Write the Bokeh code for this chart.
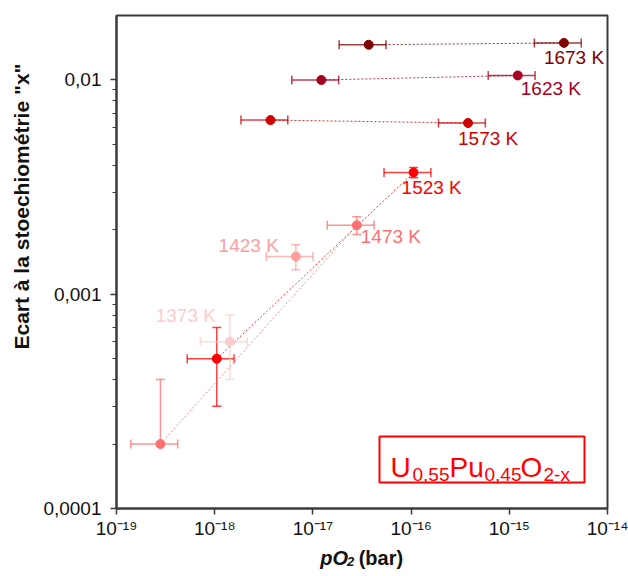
import math
from bokeh.plotting import figure
from bokeh.layouts import column, row
from bokeh.models import (ColumnDataSource, Whisker, TeeHead, Label, LabelSet, FixedTicker,
                          CustomJSTickFormatter, BoxAnnotation, Range1d)
from bokeh.core.properties import value
from bokeh.embed import file_html
from bokeh.resources import INLINE

# ---------------- data ----------------
temperatures = ["1673 K", "1623 K", "1573 K", "1523 K", "1473 K", "1423 K", "1373 K"]
colors = ["#800000", "#A50021", "#D00000", "#FF0000", "#FF6F6F", "#FF9E9E", "#FFCCCC"]

po2_1673 = [3.7e-17, 3.6e-15]
x_1673 = [0.0146, 0.0149]
po2_1623 = [1.22e-17, 1.22e-15]
x_1623 = [0.0100, 0.0105]
po2_1573 = [3.7e-18, 3.8e-16]
x_1573 = [0.0065, 0.0063]
po2_1523 = [1.05e-18, 1.06e-16]
x_1523 = [0.0005, 0.0037]
po2_1473 = [2.8e-19, 2.8e-17]
x_1473 = [0.0002, 0.0021]
po2_1423 = [6.7e-18]
x_1423 = [0.0015]
po2_1373 = [1.43e-18]
x_1373 = [0.0006]

series_po2 = [po2_1673, po2_1623, po2_1573, po2_1523, po2_1473, po2_1423, po2_1373]
series_x = [x_1673, x_1623, x_1573, x_1523, x_1473, x_1423, x_1373]

po2_rel_error = 0.5                                               # +/- 50 % on pO2
x_abs_error = [None, None, None, 0.0002, 0.0002, 0.0002, 0.0002]  # on "x"
label_point = [1, 1, 1, 1, 1, 0, 0]                               # point each label belongs to

x_ticks = [1e-19, 1e-18, 1e-17, 1e-16, 1e-15, 1e-14]
x_tick_labels = ["10⁻¹⁹", "10⁻¹⁸", "10⁻¹⁷", "10⁻¹⁶", "10⁻¹⁵", "10⁻¹⁴"]
y_ticks = [1e-4, 1e-3, 1e-2]
y_tick_labels = ["0,0001", "0,001", "0,01"]

y_title = 'Ecart à la stoechiométrie "x"'
x_title_parts = ["pO", "2", "(bar)"]
formula_parts = ["U", "0,55", "Pu", "0,45", "O", "2-x"]

# ---------------- styles ----------------
FONT = "Liberation Sans"
INK = "#111111"
AXIS = "#3a3a3a"
label_align = ["left", "left", "left", "left", "left", "right", "right"]
label_dx = [-20, 3, -10, -12, 4, -17, -14]
label_dy = [-21, -20, -22, -21, -18, 5, 20]   # positive = up

W_LEFT = 40
W_MAIN = 588
H_MAIN = 545
H_BELOW = 31
H_TOTAL = H_MAIN + H_BELOW


def blank(width, height):
    f = figure(width=width, height=height, x_range=Range1d(0, width), y_range=Range1d(0, height),
               x_axis_location=None, y_axis_location=None,
               output_backend="svg", toolbar_location=None,
               min_border_left=0, min_border_right=0, min_border_top=0, min_border_bottom=0)
    f.grid.visible = False
    f.outline_line_color = None
    f.background_fill_color = "white"
    f.border_fill_color = "white"
    return f


p = figure(width=W_MAIN, height=H_MAIN, x_axis_type="log", y_axis_type="log",
           x_range=Range1d(1e-19, 1e-14), y_range=Range1d(1e-4, 0.02),
           output_backend="svg", toolbar_location=None,
           min_border_left=76, min_border_right=21, min_border_top=15, min_border_bottom=37)
p.grid.visible = False
p.outline_line_color = AXIS
p.outline_line_width = 2
p.background_fill_color = "white"
p.border_fill_color = "white"

# x axis
xa = p.xaxis[0]
xa.ticker = FixedTicker(ticks=x_ticks, minor_ticks=[])
xa.formatter = CustomJSTickFormatter(
    args=dict(tick_values=x_ticks, tick_labels=x_tick_labels),
    code="""
    for (let i = 0; i < tick_values.length; i++) {
        if (Math.abs(Math.log10(tick_values[i]) - Math.log10(tick)) < 1e-6) return tick_labels[i];
    }
    return '';
    """)
xa.major_label_text_font = FONT
xa.major_label_text_font_size = "19px"
xa.major_label_text_color = INK
xa.major_label_standoff = 3
xa.major_tick_out = 6
xa.major_tick_in = 0
xa.minor_tick_line_color = None
xa.axis_line_color = AXIS
xa.axis_line_width = 2
xa.major_tick_line_color = AXIS
xa.major_tick_line_width = 1.5

# y axis
minor = [m * 10.0 ** e for e in (-4, -3) for m in range(2, 10)]
ya = p.yaxis[0]
ya.ticker = FixedTicker(ticks=y_ticks, minor_ticks=minor)
ya.formatter = CustomJSTickFormatter(
    args=dict(tick_values=y_ticks, tick_labels=y_tick_labels),
    code="""
    for (let i = 0; i < tick_values.length; i++) {
        if (Math.abs(Math.log10(tick_values[i]) - Math.log10(tick)) < 1e-6) return tick_labels[i];
    }
    return '';
    """)
ya.major_label_text_font = FONT
ya.major_label_text_font_size = "19px"
ya.major_label_text_color = INK
ya.major_label_standoff = 9
ya.major_tick_out = 6
ya.major_tick_in = 0
ya.minor_tick_out = 4
ya.minor_tick_in = 0
ya.axis_line_color = AXIS
ya.axis_line_width = 2
ya.major_tick_line_color = AXIS
ya.minor_tick_line_color = AXIS
ya.major_tick_line_width = 1.5

# ---------------- series ----------------
lab_x, lab_y, lab_t, lab_c, lab_dx, lab_dy, lab_al = [], [], [], [], [], [], []
for k, (t, c) in enumerate(zip(temperatures, colors)):
    xs = series_po2[k]
    ys = series_x[k]
    src = ColumnDataSource(dict(
        x=xs, y=ys,
        xl=[v * (1 - po2_rel_error) for v in xs],
        xu=[v * (1 + po2_rel_error) for v in xs],
    ))
    if len(xs) > 1:
        p.line("x", "y", source=src, line_color=c, line_alpha=0.8, line_width=1, line_dash="2 2")
    p.add_layout(Whisker(source=src, base="y", lower="xl", upper="xu", dimension="width",
                         line_color=c, line_alpha=0.75, line_width=1.5,
                         lower_head=TeeHead(size=9, line_color=c, line_alpha=0.75, line_width=1.5),
                         upper_head=TeeHead(size=9, line_color=c, line_alpha=0.75, line_width=1.5)))
    err = x_abs_error[k]
    if err is not None:
        ysrc = ColumnDataSource(dict(
            x=xs,
            yl=[v - err if v - err > 0 else v for v in ys],
            yu=[v + err for v in ys],
        ))
        p.add_layout(Whisker(source=ysrc, base="x", lower="yl", upper="yu", dimension="height",
                             line_color=c, line_alpha=0.75, line_width=1.5,
                             lower_head=TeeHead(size=9, line_color=c, line_alpha=0.75, line_width=1.5),
                             upper_head=TeeHead(size=9, line_color=c, line_alpha=0.75, line_width=1.5)))
    p.scatter("x", "y", source=src, size=9, fill_color=c, line_color=c)
    i = label_point[k]
    lab_x.append(xs[i]); lab_y.append(ys[i]); lab_t.append(t); lab_c.append(c)
    lab_dx.append(label_dx[k]); lab_dy.append(label_dy[k]); lab_al.append(label_align[k])

lsrc = ColumnDataSource(dict(x=lab_x, y=lab_y, text=lab_t, color=lab_c,
                             dx=lab_dx, dy=lab_dy, align=lab_al))
p.add_layout(LabelSet(source=lsrc, x="x", y="y", text="text", x_offset="dx", y_offset="dy",
                      text_align="align", text_baseline="alphabetic", text_color="color",
                      text_font=value(FONT), text_font_size="19px"))

# ---------------- composition box ----------------
p.add_layout(BoxAnnotation(left=263, right=468, bottom=26, top=72,
                           left_units="screen", right_units="screen",
                           bottom_units="screen", top_units="screen",
                           fill_color="white", fill_alpha=1.0,
                           line_color="#FF0000", line_width=2, line_alpha=1.0))
formula_x = [274, 296, 333, 368, 404, 427]
formula_y = [41, 34, 41, 34, 41, 34]
formula_size = ["28px", "19px", "28px", "19px", "28px", "19px"]
for txt, fx, fy, fs in zip(formula_parts, formula_x, formula_y, formula_size):
    p.add_layout(Label(x=fx, y=fy, x_units="screen", y_units="screen", text=txt,
                       text_font=FONT, text_font_size=fs, text_color="#FF0000",
                       text_baseline="alphabetic"))

# ---------------- x title strip (pO2 with subscript, mixed styles) ----------------
pb = blank(W_MAIN, H_BELOW)
xt_x = [244, 276, 290]
xt_y = [19, 15, 19]
xt_size = ["20px", "13px", "20px"]
xt_style = ["bold italic", "bold italic", "bold"]
for txt, tx, ty, ts, st in zip(x_title_parts, xt_x, xt_y, xt_size, xt_style):
    pb.text(x=[tx], y=[ty], text=[txt], text_font=value(FONT), text_font_size=ts,
            text_font_style=st, text_color=INK, text_baseline="alphabetic", text_align="left")

# ---------------- y title strip ----------------
pl = blank(W_LEFT, H_TOTAL)
pl.text(x=[21], y=[370], text=[y_title], angle=math.pi / 2, text_font=value(FONT),
        text_font_size="21px", text_font_style="bold", text_color=INK,
        text_align="center", text_baseline="middle")

layout = row(pl, column(p, pb, spacing=0), spacing=0)
open("out.html", "w").write(file_html(layout, INLINE))
